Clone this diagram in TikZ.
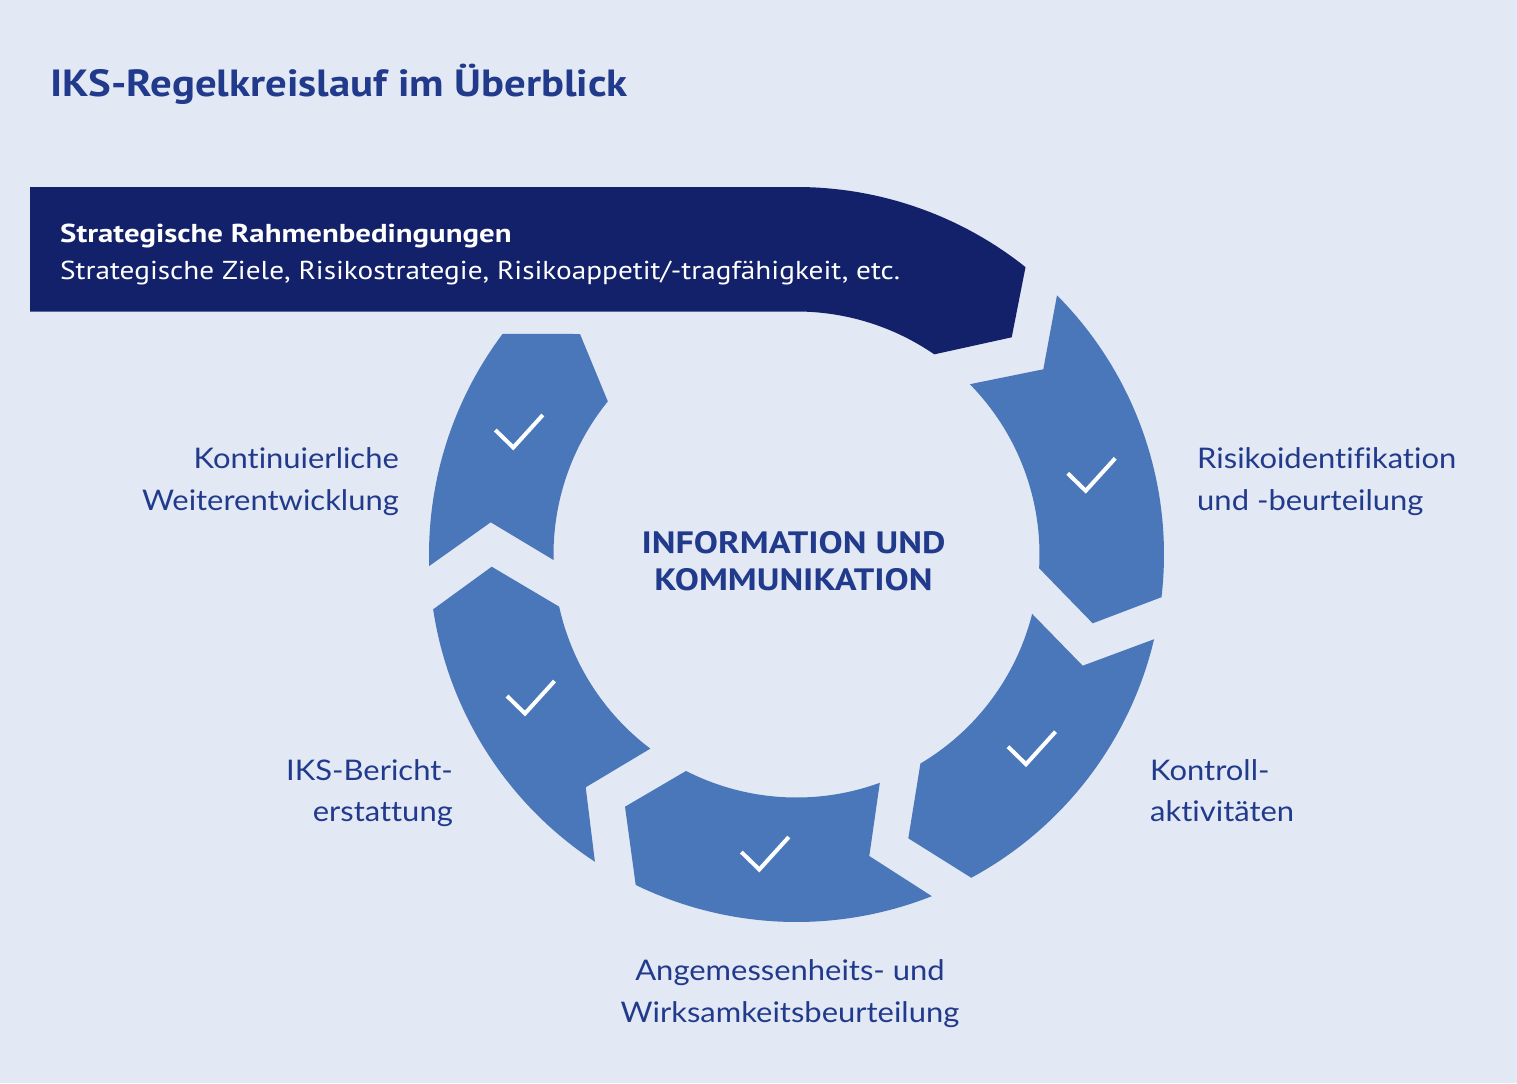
\documentclass[tikz,border=0pt]{standalone}
\usepackage{fontspec}
\setmainfont{Lato}[Ligatures=NoCommon, FakeStretch=1.09]
\newfontfamily\titlefont{PT Sans}[FakeStretch=1.13]
\newfontfamily\ctrfont{PT Sans}[FakeStretch=1.17]
\newfontfamily\bandheadfont{PT Sans}[FakeStretch=1.19]
\newfontfamily\bandsubfont{PT Sans}[FakeStretch=1.13]
\usetikzlibrary{calc}
\definecolor{bgcol}{RGB}{226,233,244}
\definecolor{segblue}{RGB}{74,119,185}
\definecolor{darkband}{RGB}{19,33,106}
\definecolor{txtblue}{RGB}{34,58,140}
\begin{document}
\begin{tikzpicture}[x=1bp,y=1bp,
  seg/.style={fill=segblue},
  band/.style={fill=darkband},
  checkmark/.style={draw=white, line width=4bp, line cap=butt, line join=miter},
  lbl/.style={inner sep=0pt, text=txtblue, font=\fontsize{28.5}{34}\selectfont},
  ttl/.style={inner sep=0pt, text=txtblue, font=\titlefont\bfseries\fontsize{38}{44}\selectfont},
  ctr/.style={inner sep=0pt, text=txtblue, font=\ctrfont\bfseries\fontsize{31}{37}\selectfont},
  bandtxt/.style={inner sep=0pt, text=white, font=\bandsubfont\fontsize{26}{31}\selectfont}]
\fill[bgcol] (0,0) rectangle (1517,-1083);
\useasboundingbox (0,0) rectangle (1517,-1083);
\coordinate (C) at (796.5,-554.5);

% dark band
\fill[band] (30,-187) -- (796.5,-187) arc[start angle=90, end angle=51.45, radius=367.5]
  -- (1011.7,-337.3) -- ($(C)+(55.46:243)$) arc[start angle=55.46, end angle=90, radius=243]
  -- (30,-311.5) -- cycle;

% segment 1
\fill[seg] ($(C)+(44.86:367.5)$) arc[start angle=44.86, end angle=-6.67, radius=367.5]
  -- (1092.7,-623.3) -- ($(C)+(-3.24:243)$) arc[start angle=-3.24, end angle=44.5, radius=243]
  -- (1043.3,-369.3) -- cycle;
% segment 2
\fill[seg] ($(C)+(-13.33:367.5)$) arc[start angle=-13.33, end angle=-61.6, radius=367.5]
  -- (908.3,-838.3) -- ($(C)+(-59.34:243)$) arc[start angle=-59.34, end angle=-14.14, radius=243]
  -- (1082.7,-665.7) -- cycle;
% segment 3
\fill[seg] ($(C)+(-68.4:367.5)$) arc[start angle=-68.4, end angle=-115.95, radius=367.5]
  -- (625,-806.7) -- ($(C)+(-117.04:243)$) arc[start angle=-117.04, end angle=-69.95, radius=243]
  -- (869.3,-856) -- cycle;
% segment 4
\fill[seg] ($(C)+(-123.27:367.5)$) arc[start angle=-123.27, end angle=-171.42, radius=367.5]
  -- (491.7,-566.7) -- ($(C)+(-167.6:243)$) arc[start angle=-167.6, end angle=-126.98, radius=243]
  -- (585.7,-787.3) -- cycle;
% segment 5
\fill[seg] ($(C)+(-178.2:367.5)$) arc[start angle=-178.2, end angle=-216.89, radius=367.5]
  -- (580,-334) -- ($(C)+(-219.06:243)$) arc[start angle=-219.06, end angle=-178.7, radius=243]
  -- (490.7,-522.3) -- cycle;

% check marks (bottom vertices)
\coordinate (k1) at (1085.7,-490.8);
\coordinate (k2) at (1026,-764.2);
\coordinate (k3) at (759.3,-869.5);
\coordinate (k4) at (525,-713.5);
\coordinate (k5) at (513.3,-447.5);
\foreach \k in {k1,k2,k3,k4,k5}
  \draw[checkmark] ($(\k)+(-18,17.5)$) -- (\k) -- ($(\k)+(29.5,32.5)$);

% texts
\node[ttl, anchor=base west] (title) at (50,-96.5) {IKS-Regelkreislauf im Überblick};
\node[bandtxt, font=\bandheadfont\bfseries\fontsize{26}{31}\selectfont, anchor=base west] (bandhead) at (60,-242.7) {Strategische Rahmenbedingungen};
\node[bandtxt, anchor=base west] (bandsub) at (60,-279) {Strategische Ziele, Risikostrategie, Risikoappetit/-tragfähigkeit, etc.};

\node[ctr, anchor=base] (info1) at (793.5,-553.3) {INFORMATION UND};
\node[ctr, anchor=base] (info2) at (793.5,-590.7) {KOMMUNIKATION};

\node[lbl, anchor=base west] (risk1) at (1197,-468.3) {Risikoidentifikation};
\node[lbl, anchor=base west] (risk2) at (1197,-510) {und -beurteilung};
\node[lbl, anchor=base west] (kontr1) at (1150,-780) {Kontroll-};
\node[lbl, anchor=base west] (kontr2) at (1150,-821) {aktivitäten};
\node[lbl, anchor=base] (ang1) at (790,-980.7) {Angemessenheits- und};
\node[lbl, anchor=base] (ang2) at (790,-1022.7) {Wirksamkeitsbeurteilung};
\node[lbl, anchor=base east] (iks1) at (453,-780) {IKS-Bericht-};
\node[lbl, anchor=base east] (iks2) at (453,-821) {erstattung};
\node[lbl, anchor=base east] (kont1) at (399,-468.3) {Kontinuierliche};
\node[lbl, anchor=base east] (kont2) at (399,-510) {Weiterentwicklung};
\end{tikzpicture}
\end{document}
